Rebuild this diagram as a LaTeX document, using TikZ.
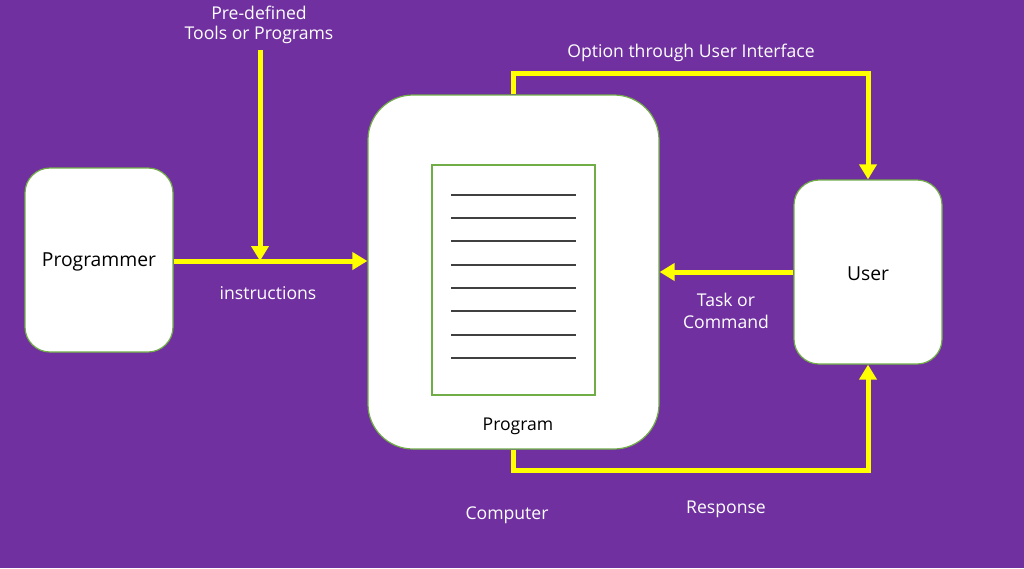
\documentclass[tikz,border=0pt]{standalone}
\usepackage{fontspec}
\setmainfont{Open Sans}
\usetikzlibrary{arrows.meta}
\definecolor{bgpurple}{HTML}{7030A0}
\definecolor{boxgreen}{HTML}{70AD47}
\definecolor{arrowyellow}{HTML}{FFFF00}
\definecolor{linegray}{HTML}{404040}
\tikzset{
  box/.style={draw=boxgreen, line width=1.2pt, fill=white, inner sep=0pt},
  flow/.style={draw=arrowyellow, line width=5pt, -{Triangle[length=15pt,width=17pt]}},
  lbl/.style={text=white, font=\fontsize{17.6}{21}\selectfont, align=center},
  intext/.style={text=black, font=\fontsize{19.3}{23}\selectfont},
  docline/.style={draw=linegray, line width=1.3pt}
}
\begin{document}
\begin{tikzpicture}[x=1pt,y=-1pt]
\fill[bgpurple] (0,0) rectangle (1024,568);
\useasboundingbox (0,0) rectangle (1024,568);
% boxes
\node[box, rounded corners=25pt, minimum width=148pt, minimum height=184pt] (prog) at (99,260) {};
\node[intext] (progtxt) at (99,262) {Programmer};
\node[box, rounded corners=45pt, minimum width=291pt, minimum height=354pt] (program) at (513.5,272) {};
\node[box, minimum width=163pt, minimum height=230pt] (doc) at (513.5,280) {};
\foreach \yy [count=\i] in {195,218,241,265,288,311,335,358} {
  \coordinate (l\i a) at (451,\yy);
  \coordinate (l\i b) at (576,\yy);
  \draw[docline] (l\i a) -- (l\i b);
}
\node[intext, font=\fontsize{17.6}{21}\selectfont] (programtxt) at (518,426) {Program};
\node[box, rounded corners=25pt, minimum width=148pt, minimum height=184pt] (user) at (868,272) {};
\node[intext] (usertxt) at (868,274) {User};
% coordinates
\coordinate (predef) at (260,50);
\coordinate (join) at (260,261);
\coordinate (topA) at (513,73);
\coordinate (topB) at (868,73);
\coordinate (botA) at (513,470);
\coordinate (botB) at (868,470);
% arrows
\draw[flow] (prog.east |- 0,261) -- (program.west |- 0,261);
\draw[flow] (predef) -- (join);
\draw[flow] (program.north -| topA) -- (topA) -- (topB) -- (user.north);
\draw[flow] (user.west |- 0,272) -- (program.east |- 0,272);
\draw[flow] (program.south -| botA) -- (botA) -- (botB) -- (user.south);
% labels
\node[lbl] (l1) at (259,13) {Pre-defined};
\node[lbl] (l2) at (259,35) {Tools or Programs};
\node[lbl] (l3) at (268,293) {instructions};
\node[lbl] (l4) at (691,53) {Option through User Interface};
\node[lbl] (l5) at (726,300) {Task or};
\node[lbl] (l6) at (726,322) {Command};
\node[lbl] (l7) at (726,509) {Response};
\node[lbl] (l8) at (507,515) {Computer};
\end{tikzpicture}
\end{document}
